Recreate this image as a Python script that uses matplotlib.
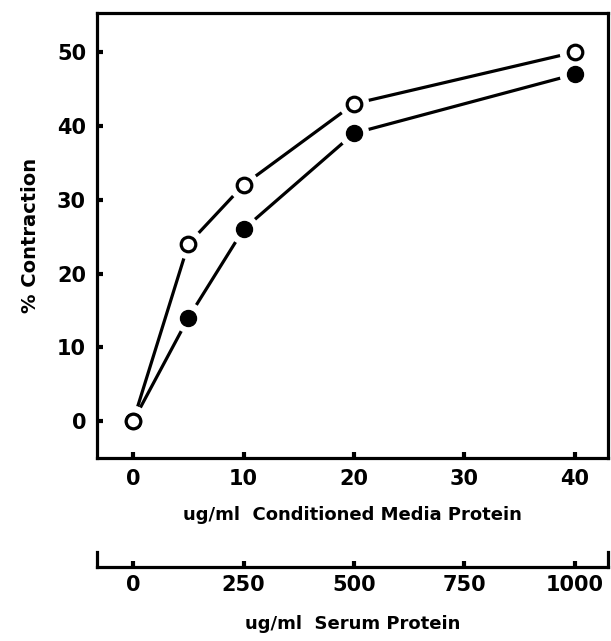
import matplotlib.pyplot as plt

# conditioned media protein (ug/ml) and % contraction
conc = [0, 5, 10, 20, 40]
open_pts = [0, 24, 32, 43, 50]
filled_pts = [0, 14, 26, 39, 47]

x_ticks = [0, 10, 20, 30, 40]
serum_ticks = [0, 250, 500, 750, 1000]
y_ticks = [0, 10, 20, 30, 40, 50]

plt.rcParams['font.family'] = 'DejaVu Sans'
plt.rcParams['font.weight'] = 'bold'

fig = plt.figure(figsize=(6.11, 6.41), dpi=100)
ax = fig.add_axes([0.159, 0.2855, 0.836, 0.6942])

# lines first, then white halos so the lines stop short of the markers
ax.plot(conc, open_pts, color='black', lw=2.3, zorder=2, solid_capstyle='butt')
ax.plot(conc, filled_pts, color='black', lw=2.3, zorder=2, solid_capstyle='butt')
ax.scatter(conc, open_pts, s=480, c='white', edgecolors='none', zorder=3)
ax.scatter(conc, filled_pts, s=480, c='white', edgecolors='none', zorder=3)
ax.plot(conc, filled_pts, ls='none', marker='o', ms=11.5, mfc='black', mec='black', zorder=4)
ax.plot(conc, open_pts, ls='none', marker='o', ms=10.5, mfc='white', mec='black', mew=2.3, zorder=5)

ax.set_xlim(-3.26, 43.0)
ax.set_ylim(-5.0, 55.3)
ax.set_xticks(x_ticks)
ax.set_yticks(y_ticks)
ax.tick_params(direction='in', length=4, width=3, labelsize=15, pad=8)
for s in ax.spines.values():
    s.set_linewidth(2.3)
ax.set_ylabel('% Contraction', fontsize=14, fontweight='bold', labelpad=12)
ax.set_xlabel('ug/ml  Conditioned Media Protein', fontsize=13, fontweight='bold', labelpad=12)

# second scale below for serum protein
ax2 = fig.add_axes([0.159, 0.1154, 0.836, 0.024])
ax2.set_xlim(-81.5, 1075)
ax2.set_ylim(0, 1)
ax2.set_xticks(serum_ticks)
ax2.set_yticks([])
ax2.spines['top'].set_visible(False)
for s in ('bottom', 'left', 'right'):
    ax2.spines[s].set_linewidth(2.3)
ax2.tick_params(axis='x', direction='in', length=4, width=3, labelsize=15, pad=6)
ax2.patch.set_alpha(0)
ax2.set_xlabel('ug/ml  Serum Protein', fontsize=13, fontweight='bold', labelpad=14)

plt.savefig('out.png', dpi=100)
